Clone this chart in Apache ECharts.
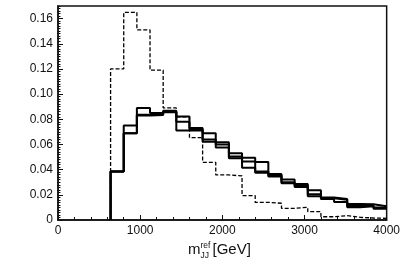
<!DOCTYPE html>
<html>
<head>
<meta charset="utf-8">
<script src="https://cdn.jsdelivr.net/npm/echarts@6/dist/echarts.min.js"></script>
<style>html,body{margin:0;padding:0;background:#fff;}#c{width:403px;height:265px;}</style>
</head>
<body>
<div id="c"></div>
<script>
// Bin edges (GeV)
const binEdges = [640, 800, 960, 1120, 1280, 1440, 1600, 1760, 1920, 2080, 2240, 2400, 2560, 2720, 2880, 3040, 3200, 3360, 3520, 3680, 3840, 4000];
// Dashed histogram
const dashedVals = [0.120, 0.165, 0.151, 0.119, 0.089, 0.082, 0.0655, 0.0458, 0.0358, 0.0350, 0.0194, 0.0140, 0.0133, 0.0093, 0.0101, 0.0066, 0.0026, 0.0034, 0.0021, 0.0016, 0.0013];
// Solid histograms
const solidA = [0.0385, 0.0750, 0.0890, 0.0850, 0.0868, 0.0822, 0.0730, 0.0690, 0.0618, 0.0530, 0.0495, 0.0460, 0.0365, 0.0322, 0.0285, 0.0237, 0.0178, 0.0167, 0.0127, 0.0125, 0.0110];
const solidB = [0.0385, 0.0690, 0.0836, 0.0840, 0.0860, 0.0780, 0.0720, 0.0640, 0.0600, 0.0505, 0.0465, 0.0385, 0.0355, 0.0300, 0.0275, 0.0205, 0.0172, 0.0160, 0.0112, 0.0118, 0.0100];
const solidC = [0.0385, 0.0690, 0.0830, 0.0835, 0.0855, 0.0711, 0.0710, 0.0622, 0.0575, 0.0490, 0.0415, 0.0375, 0.0345, 0.0292, 0.0262, 0.0188, 0.0167, 0.0142, 0.0101, 0.0110, 0.0090];
// Axis ticks
const xTicks = [0, 1000, 2000, 3000, 4000];
const yTicks = [0, 0.02, 0.04, 0.06, 0.08, 0.10, 0.12, 0.14, 0.16];

function hist(vals) {
  const d = [[binEdges[0], 0]];
  vals.forEach((v, i) => d.push([binEdges[i], v]));
  d.push([binEdges[binEdges.length - 1], vals[vals.length - 1]]);
  return d;
}

const FONT = 'Liberation Sans, Arial, Helvetica, sans-serif';
const chart = echarts.init(document.getElementById('c'), null, {renderer: 'canvas'});

function solid(vals) {
  return {
    type: 'line', step: 'end', data: hist(vals), showSymbol: false, symbol: 'none',
    lineStyle: {color: '#000', width: 2}, xAxisIndex: 0, yAxisIndex: 0, z: 3, clip: true
  };
}

chart.setOption({
  animation: false,
  backgroundColor: '#fff',
  grid: {left: 58, right: 13, top: 6, bottom: 45, show: true, borderColor: '#111', borderWidth: 1.5, backgroundColor: 'transparent'},
  xAxis: [{
    type: 'value', min: xTicks[0], max: xTicks[xTicks.length - 1], interval: 1000,
    axisLine: {show: true, lineStyle: {color: '#111', width: 1.5}},
    axisTick: {show: true, inside: true, length: 5, lineStyle: {color: '#111', width: 1}},
    minorTick: {show: true, splitNumber: 5, length: 3, lineStyle: {color: '#111', width: 1}},
    axisLabel: {color: '#111', fontSize: 12, fontFamily: FONT, margin: 5,
      formatter: v => xTicks.includes(v) ? String(v) : ''},
    splitLine: {show: false}, minorSplitLine: {show: false}
  }],
  yAxis: [{
    type: 'value', min: 0, max: 0.17, interval: 0.02,
    axisLine: {show: true, lineStyle: {color: '#111', width: 1.5}},
    axisTick: {show: true, inside: true, length: 5, lineStyle: {color: '#111', width: 1}},
    axisLabel: {color: '#111', fontSize: 12, fontFamily: FONT, margin: 5, showMaxLabel: false,
      formatter: v => {
        const t = yTicks.find(y => Math.abs(y - v) < 1e-6);
        if (t === undefined) return '';
        return t === 0 ? '0' : t.toFixed(2);
      }},
    splitLine: {show: false}
  }, {
    type: 'value', min: 0, max: 0.17, interval: 0.002, position: 'left',
    axisLine: {show: false},
    axisTick: {show: true, inside: true, length: 2.5, lineStyle: {color: '#111', width: 1}},
    axisLabel: {show: false},
    splitLine: {show: false}
  }],
  series: [
    {
      type: 'line', step: 'end', data: hist(dashedVals), showSymbol: false, symbol: 'none',
      lineStyle: {color: '#000', width: 1.3, type: [4, 2]}, z: 2, clip: true
    },
    solid(solidC), solid(solidB), solid(solidA)
  ],
  graphic: [
    {type: 'text', left: 188, top: 242, style: {text: 'm', font: '15px ' + FONT, fill: '#111'}},
    {type: 'text', left: 200.5, top: 241, style: {text: 'ref', font: '8.5px ' + FONT, fill: '#111'}},
    {type: 'text', left: 200.5, top: 251.5, style: {text: 'JJ', font: '8.5px ' + FONT, fill: '#111'}},
    {type: 'text', left: 212.5, top: 242, style: {text: '[GeV]', font: '15px ' + FONT, fill: '#111'}}
  ]
});
</script>
</body>
</html>
